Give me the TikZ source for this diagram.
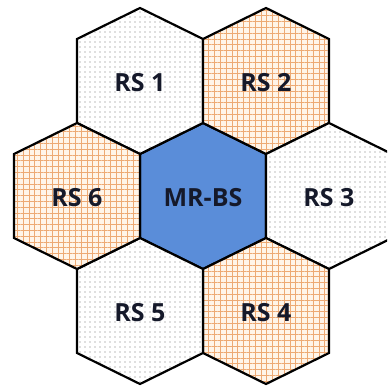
\documentclass[tikz,border=0pt]{standalone}
\usepackage{fontspec}
\setmainfont{Open Sans}
\usepackage{tikz}
\usetikzlibrary{patterns.meta}

\definecolor{bsblue}{HTML}{5A8DD9}
\definecolor{gridcream}{HTML}{FFF5E9}
\definecolor{gridorange}{HTML}{EDAA74}
\definecolor{labelink}{HTML}{15192A}

\begin{document}
\begin{tikzpicture}[
    x=1pt, y=-1pt,
    cellbase/.style = {draw=black, line width=2.2pt, line join=miter},
    dotcell/.style  = {cellbase, preaction={fill=white},
                       pattern={Dots[distance=5pt, radius=0.95pt]},
                       pattern color=gray!50},
    gridcell/.style = {cellbase, preaction={fill=gridcream},
                       pattern={Hatch[angle=0, distance=5.8pt, line width=0.65pt]},
                       pattern color=gridorange},
    bscell/.style   = {cellbase, fill=bsblue},
    celltext/.style = {font=\fontsize{25}{28}\selectfont\bfseries,
                       text=labelink, inner sep=0pt},
]

% page frame, the right cell runs off the edge
\useasboundingbox (0,0) rectangle (387,387);
\fill[white] (0,0) rectangle (387,387);
\clip (0,0) rectangle (387,387);

% ring of relay cells round the base station
\foreach \nm/\cx/\cy/\st/\txt in {
    bs/203/196/bscell/MR-BS,
    rs1/140/81/dotcell/RS 1,
    rs2/266/81/gridcell/RS 2,
    rs3/329/196/dotcell/RS 3,
    rs4/266/311/gridcell/RS 4,
    rs5/140/311/dotcell/RS 5,
    rs6/77/196/gridcell/RS 6} {
  \draw[\st] (\cx,\cy) ++(0,-73) -- ++(63,31) -- ++(0,84)
        -- ++(-63,31) -- ++(-63,-31) -- ++(0,-84) -- cycle;
  \node[celltext] (\nm) at (\cx,\cy+2) {\txt};
}

\end{tikzpicture}
\end{document}
